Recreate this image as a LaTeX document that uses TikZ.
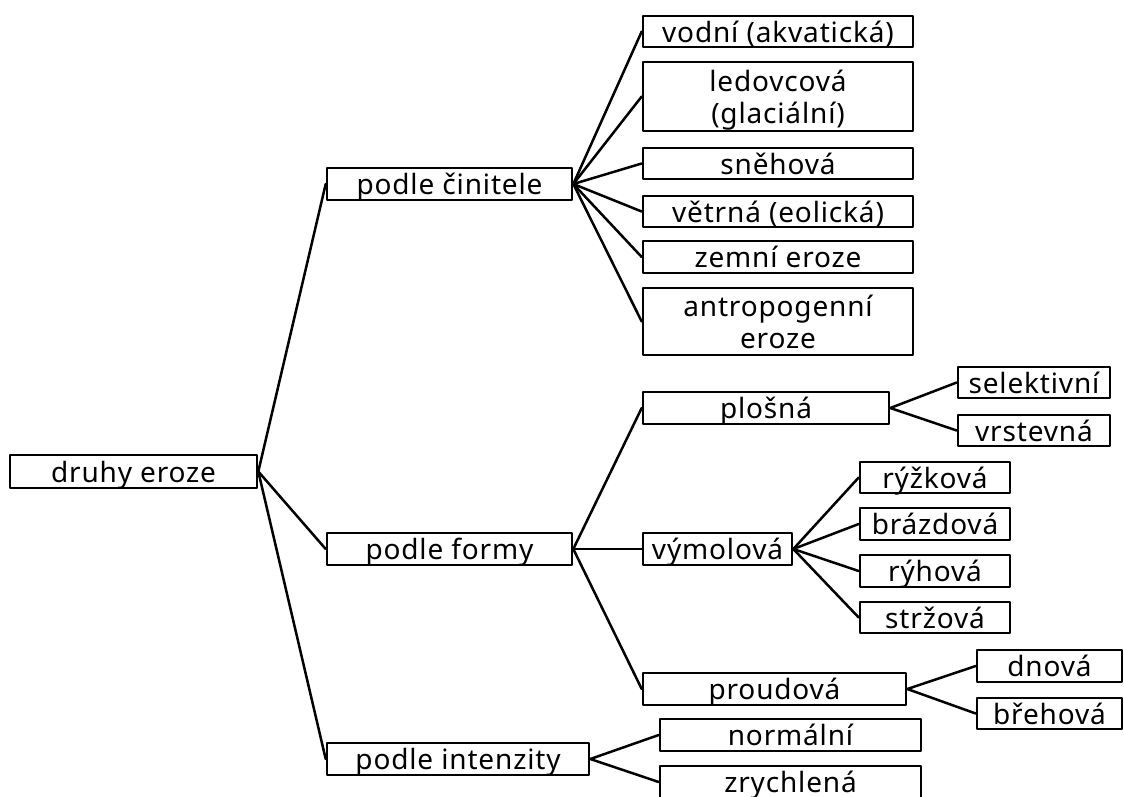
\documentclass[tikz,border=0pt]{standalone}
\usepackage{fontspec}
\setmainfont[LetterSpace=3]{Noto Sans}
\tikzset{
  box/.style={draw, line width=2.6pt, inner sep=0pt, align=center, text depth=0pt,
    font=\fontsize{28}{32}\selectfont},
  link/.style={line width=2.5pt, line cap=round}
}
\begin{document}
\begin{tikzpicture}[x=1pt,y=-1pt,line join=round]
\useasboundingbox (0,0) rectangle (1124,796);
% root
\node[box,minimum width=247pt,minimum height=33pt] (druhy) at (133.5,471.5) {druhy eroze};
% first level
\node[box,minimum width=245pt,minimum height=32pt] (cinitel) at (449.5,184) {podle činitele};
\node[box,minimum width=245pt,minimum height=32pt] (forma) at (449.5,549) {podle formy};
\node[box,minimum width=262pt,minimum height=32pt] (intenzita) at (458,759) {podle intenzity};
% podle cinitele
\node[box,minimum width=270pt,minimum height=31pt] (vodni) at (778,31.5) {vodní (akvatická)};
\node[box,minimum width=270pt,minimum height=69pt] (ledovc) at (778,96.5) {ledovcová\\(glaciální)};
\node[box,minimum width=270pt,minimum height=31pt] (snehova) at (778,163.5) {sněhová};
\node[box,minimum width=270pt,minimum height=31pt] (vetrna) at (778,211.5) {větrná (eolická)};
\node[box,minimum width=270pt,minimum height=32pt] (zemni) at (778,257) {zemní eroze};
\node[box,minimum width=270pt,minimum height=67pt] (antrop) at (778,321.5) {antropogenní\\eroze};
% podle formy
\node[box,minimum width=246pt,minimum height=32pt] (plosna) at (766,408) {plošná};
\node[box,minimum width=149pt,minimum height=32pt] (vymol) at (717.5,549) {výmolová};
\node[box,minimum width=263pt,minimum height=32pt] (proud) at (774.5,689) {proudová};
\node[box,minimum width=152pt,minimum height=31pt] (selekt) at (1034,382.5) {selektivní};
\node[box,minimum width=152pt,minimum height=31pt] (vrstev) at (1034,430.5) {vrstevná};
\node[box,minimum width=150pt,minimum height=31pt] (ryzk) at (935,477.5) {rýžková};
\node[box,minimum width=150pt,minimum height=32pt] (brazd) at (935,524) {brázdová};
\node[box,minimum width=150pt,minimum height=32pt] (ryh) at (935,571) {rýhová};
\node[box,minimum width=150pt,minimum height=31pt] (strz) at (935,617.5) {stržová};
\node[box,minimum width=145pt,minimum height=32pt] (dnova) at (1049.5,666) {dnová};
\node[box,minimum width=145pt,minimum height=31pt] (brehova) at (1049.5,713.5) {břehová};
% podle intenzity
\node[box,minimum width=261pt,minimum height=32pt] (normal) at (790.5,735) {normální};
\node[box,minimum width=261pt,minimum height=32pt] (zrychl) at (790.5,782) {zrychlená};
% connectors
\foreach \c in {cinitel,forma,intenzita}
  \draw[link] (druhy.east) -- (\c.west);
\foreach \c in {vodni,ledovc,snehova,vetrna,zemni,antrop}
  \draw[link] (cinitel.east) -- (\c.west);
\foreach \c in {plosna,vymol,proud}
  \draw[link] (forma.east) -- (\c.west);
\foreach \c in {selekt,vrstev}
  \draw[link] (plosna.east) -- (\c.west);
\foreach \c in {ryzk,brazd,ryh,strz}
  \draw[link] (vymol.east) -- (\c.west);
\foreach \c in {dnova,brehova}
  \draw[link] (proud.east) -- (\c.west);
\foreach \c in {normal,zrychl}
  \draw[link] (intenzita.east) -- (\c.west);
\end{tikzpicture}
\end{document}
